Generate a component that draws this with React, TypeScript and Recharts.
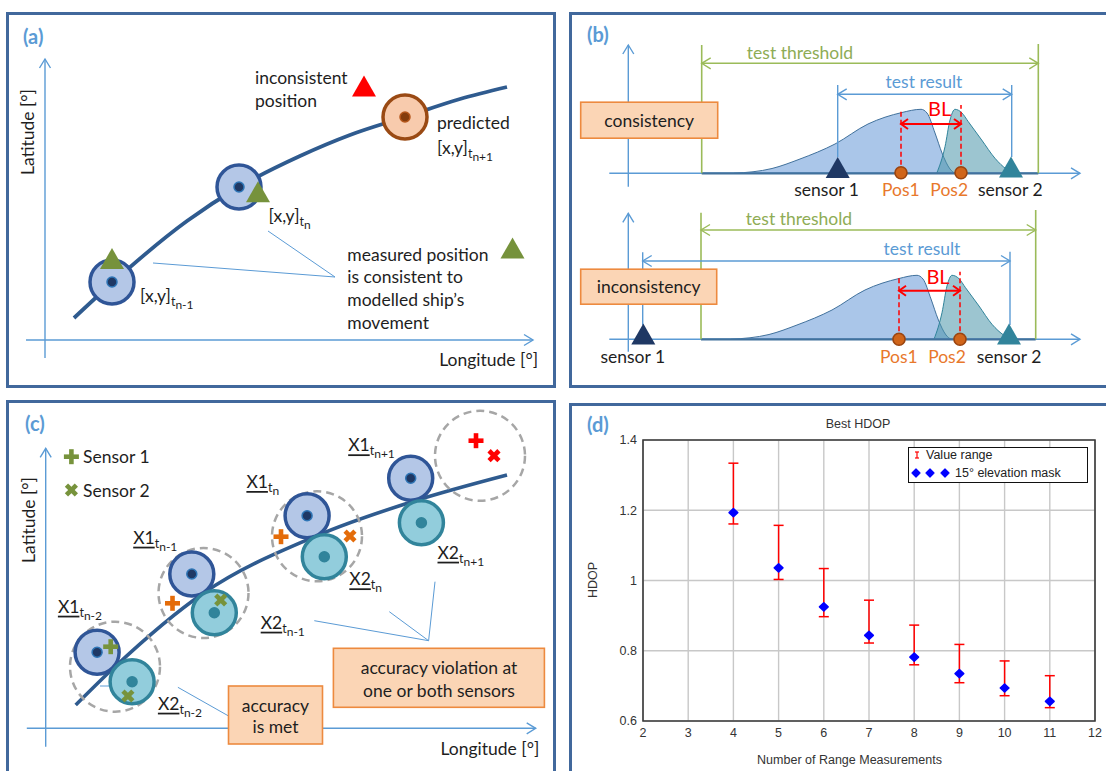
import React from 'react';
import {
  ComposedChart, Line, Area, Scatter, XAxis, YAxis, ReferenceLine, ReferenceArea,
  CartesianGrid, ErrorBar, Legend,
} from 'recharts';

const W = 1106;
const H = 771;
const TXT = "Lato, 'Noto Sans', sans-serif";
const CHART_FONT = "'Liberation Sans', Arial, sans-serif";

// ---------------- (d) Best HDOP ----------------
const rangeMeasurements = [4, 5, 6, 7, 8, 9, 10, 11];
const hdopElevMask15 = [1.193, 1.036, 0.925, 0.844, 0.782, 0.735, 0.694, 0.656];
const hdopRangeMax = [1.334, 1.157, 1.034, 0.944, 0.873, 0.818, 0.771, 0.729];
const hdopRangeMin = [1.161, 1.003, 0.897, 0.822, 0.76, 0.709, 0.672, 0.638];
const hdopXTicks = [2, 3, 4, 5, 6, 7, 8, 9, 10, 11, 12];
const hdopYTicks = [0.6, 0.8, 1, 1.2, 1.4];

// ---------------- diagram data (panels a, b, c) ----------------
type XY = [number, number];
type SegKind = 'axis' | 'leader' | 'base' | 'threshold' | 'thresholdSpan' | 'result' | 'resultSpan' | 'pos' | 'bl';
type Seg = { from: XY; to: XY; kind: SegKind };

// (a)
const shipTrackA: XY[] = [[74, 318], [112, 283], [187, 221], [239, 187], [300, 156], [350, 135], [405, 117], [460, 99], [507, 87]];
const fixesA = [
  { x: 112, y: 282, kind: 'measured' },
  { x: 239, y: 187, kind: 'measured' },
  { x: 405, y: 117, kind: 'predicted' },
];
const measurementsA = [
  { x: 112, y: 258.5, kind: 'ok' },
  { x: 258, y: 191.7, kind: 'ok' },
  { x: 364, y: 86, kind: 'bad' },
  { x: 512.5, y: 248, kind: 'ok' },
];
const segmentsA: Seg[] = [
  { from: [45, 358], to: [45, 59], kind: 'axis' },
  { from: [26, 340], to: [533, 340], kind: 'axis' },
  { from: [153, 263], to: [335, 277], kind: 'leader' },
  { from: [268, 231], to: [335, 277], kind: 'leader' },
];
const labelsA = [
  { x: 23, y: 35.5, text: '(a)', kind: 'panel', anchor: 'start' },
  { x: 27, y: 132, text: 'Latitude [°]', kind: 'axisV', anchor: 'middle' },
  { x: 538, y: 359, text: 'Longitude [°]', kind: 'body', anchor: 'end' },
  { x: 255, y: 77, text: 'inconsistent', kind: 'body', anchor: 'start' },
  { x: 255, y: 100, text: 'position', kind: 'body', anchor: 'start' },
  { x: 437, y: 122.7, text: 'predicted', kind: 'body', anchor: 'start' },
  { x: 347.3, y: 254, text: 'measured position', kind: 'body', anchor: 'start' },
  { x: 347.3, y: 276.7, text: 'is consistent to', kind: 'body', anchor: 'start' },
  { x: 347.3, y: 299.3, text: 'modelled ship’s', kind: 'body', anchor: 'start' },
  { x: 347.3, y: 322.7, text: 'movement', kind: 'body', anchor: 'start' },
];
const subLabelsA = [
  { x: 437, y: 146.7, main: '[x,y]', sub: 'n+1', underline: false },
  { x: 268.6, y: 215, main: '[x,y]', sub: 'n', underline: false },
  { x: 140, y: 295, main: '[x,y]', sub: 'n-1', underline: false },
];

// (b)
const segmentsB: Seg[] = [
  { from: [628.3, 186.7], to: [628.3, 45], kind: 'axis' },
  { from: [609.3, 173.3], to: [1080, 173.3], kind: 'axis' },
  { from: [701.7, 173.3], to: [1038.3, 173.3], kind: 'base' },
  { from: [701.7, 173.3], to: [701.7, 45], kind: 'threshold' },
  { from: [1038.3, 173.3], to: [1038.3, 44], kind: 'threshold' },
  { from: [701.7, 63.3], to: [1038.3, 63.3], kind: 'thresholdSpan' },
  { from: [837.7, 157], to: [837.7, 85], kind: 'result' },
  { from: [1011.7, 157], to: [1011.7, 85], kind: 'result' },
  { from: [837.7, 94.3], to: [1011.7, 94.3], kind: 'resultSpan' },
  { from: [901, 172.7], to: [901, 109.3], kind: 'pos' },
  { from: [961, 172.7], to: [961, 105], kind: 'pos' },
  { from: [901, 124], to: [961, 124], kind: 'bl' },
  { from: [628.3, 351.7], to: [628.3, 213.3], kind: 'axis' },
  { from: [609.3, 339.3], to: [1080, 339.3], kind: 'axis' },
  { from: [701, 339.3], to: [1035.7, 339.3], kind: 'base' },
  { from: [701, 339.3], to: [701, 212.7], kind: 'threshold' },
  { from: [1035.7, 339.3], to: [1035.7, 210], kind: 'threshold' },
  { from: [701, 230], to: [1035.7, 230], kind: 'thresholdSpan' },
  { from: [642.7, 325], to: [642.7, 252.3], kind: 'result' },
  { from: [1010, 325], to: [1010, 251.7], kind: 'result' },
  { from: [642.7, 261], to: [1010, 261], kind: 'resultSpan' },
  { from: [899, 339.3], to: [899, 275.3], kind: 'pos' },
  { from: [960, 339.3], to: [960, 271.7], kind: 'pos' },
  { from: [899, 290.7], to: [960, 290.7], kind: 'bl' },
];
const densitySensor1Upper: XY[] = [[734, 173.3], [772, 168.5], [800, 159], [835, 144], [868, 124], [902, 112.5], [921, 109.3], [927, 113], [935, 133], [942, 153], [950, 169], [955, 173.3]];
const densitySensor2Upper: XY[] = [[936.7, 173.3], [945, 146.7], [950, 120], [955, 109.3], [961.7, 112.7], [968.3, 121.7], [981.7, 140], [995, 158.3], [1006.7, 169.3], [1015, 173.3]];
const densitySensor1Lower: XY[] = [[731, 339.3], [769, 334.5], [797, 325], [832, 310], [865, 290], [899, 278.5], [917, 275.3], [923, 279], [931, 299], [938, 319], [946, 335], [951, 339.3]];
const densitySensor2Lower: XY[] = [[934, 339.3], [942, 312.7], [947, 286], [952, 275.3], [959, 278.7], [965.5, 287.7], [979, 306], [992, 324.3], [1004, 335.3], [1012, 339.3]];
const baselineUpper = 173.3;
const baselineLower = 339.3;
const sensorsB = [
  { x: 837.7, y: 167.5, kind: 's1' },
  { x: 1011, y: 167, kind: 's2' },
  { x: 643.3, y: 334, kind: 's1' },
  { x: 1009, y: 334, kind: 's2' },
];
const positionsB = [
  { x: 901, y: 172.7 }, { x: 961, y: 172.7 }, { x: 899, y: 339.3 }, { x: 960, y: 339.3 },
];
const labelsB = [
  { x: 587, y: 34.2, text: '(b)', kind: 'panel', anchor: 'start' },
  { x: 800, y: 52.7, text: 'test threshold', kind: 'threshold', anchor: 'middle' },
  { x: 924, y: 81, text: 'test result', kind: 'result', anchor: 'middle' },
  { x: 939.7, y: 108.3, text: 'BL', kind: 'bl', anchor: 'middle' },
  { x: 826.6, y: 189, text: 'sensor 1', kind: 'body', anchor: 'middle' },
  { x: 900.8, y: 189, text: 'Pos1', kind: 'pos', anchor: 'middle' },
  { x: 949.2, y: 189, text: 'Pos2', kind: 'pos', anchor: 'middle' },
  { x: 1010.3, y: 189, text: 'sensor 2', kind: 'body', anchor: 'middle' },
  { x: 649.2, y: 120.2, text: 'consistency', kind: 'body', anchor: 'middle' },
  { x: 799, y: 218.3, text: 'test threshold', kind: 'threshold', anchor: 'middle' },
  { x: 922, y: 248.3, text: 'test result', kind: 'result', anchor: 'middle' },
  { x: 938, y: 275.7, text: 'BL', kind: 'bl', anchor: 'middle' },
  { x: 632.8, y: 356, text: 'sensor 1', kind: 'body', anchor: 'middle' },
  { x: 898.8, y: 356, text: 'Pos1', kind: 'pos', anchor: 'middle' },
  { x: 947, y: 356, text: 'Pos2', kind: 'pos', anchor: 'middle' },
  { x: 1009, y: 356, text: 'sensor 2', kind: 'body', anchor: 'middle' },
  { x: 648.7, y: 286.7, text: 'inconsistency', kind: 'body', anchor: 'middle' },
];

// (c)
const shipTrackC: XY[] = [[75.7, 705], [114.6, 667], [203, 593.4], [315.7, 536.2], [416, 500.5], [507, 475]];
const toleranceC = [{ x: 115, y: 666.7 }, { x: 203.5, y: 593 }, { x: 317, y: 536.3 }, { x: 480, y: 455.8 }];
const fixesC = [
  { x: 97.1, y: 652.3, kind: 'measured' },
  { x: 191.8, y: 574, kind: 'measured' },
  { x: 307.1, y: 515.7, kind: 'measured' },
  { x: 410.7, y: 478.3, kind: 'measured' },
  { x: 132.1, y: 681.7, kind: 'sensor2' },
  { x: 214.3, y: 612.7, kind: 'sensor2' },
  { x: 324.3, y: 556.7, kind: 'sensor2' },
  { x: 421.4, y: 522.7, kind: 'sensor2' },
];
const sensorFixesC = [
  { x: 110.7, y: 646.7, sensor: 1, status: 'ok' },
  { x: 127.9, y: 696, sensor: 2, status: 'ok' },
  { x: 172.5, y: 603.3, sensor: 1, status: 'warn' },
  { x: 220.7, y: 600, sensor: 2, status: 'ok' },
  { x: 281, y: 536.7, sensor: 1, status: 'warn' },
  { x: 350, y: 536, sensor: 2, status: 'warn' },
  { x: 476, y: 440.7, sensor: 1, status: 'fail' },
  { x: 494, y: 455.7, sensor: 2, status: 'fail' },
  { x: 71.4, y: 456.7, sensor: 1, status: 'ok' },
  { x: 71.4, y: 490, sensor: 2, status: 'ok' },
];
const segmentsC: Seg[] = [
  { from: [45.7, 746.7], to: [45.7, 448.3], kind: 'axis' },
  { from: [26.8, 728.3], to: [535.7, 728.3], kind: 'axis' },
  { from: [177.9, 687.3], to: [228.6, 716], kind: 'leader' },
  { from: [314.3, 620.7], to: [428.6, 640.7], kind: 'leader' },
  { from: [389.3, 611.7], to: [428.6, 640.7], kind: 'leader' },
  { from: [435, 581.7], to: [428.6, 640.7], kind: 'leader' },
  { from: [100, 686], to: [139, 686], kind: 'leader' },
];
const labelsC = [
  { x: 25, y: 422.5, text: '(c)', kind: 'panel', anchor: 'start' },
  { x: 28, y: 520, text: 'Latitude [°]', kind: 'axisV', anchor: 'middle' },
  { x: 539.3, y: 748.3, text: 'Longitude [°]', kind: 'body', anchor: 'end' },
  { x: 83, y: 456.7, text: 'Sensor 1', kind: 'body', anchor: 'start' },
  { x: 83, y: 490, text: 'Sensor 2', kind: 'body', anchor: 'start' },
  { x: 275.5, y: 705, text: 'accuracy', kind: 'body', anchor: 'middle' },
  { x: 275.5, y: 726.7, text: 'is met', kind: 'body', anchor: 'middle' },
  { x: 439, y: 667.3, text: 'accuracy violation at', kind: 'body', anchor: 'middle' },
  { x: 439, y: 690, text: 'one or both sensors', kind: 'body', anchor: 'middle' },
];
const subLabelsC = [
  { x: 57.9, y: 605.7, main: 'X1', sub: 'n-2', underline: true },
  { x: 133.2, y: 536.7, main: 'X1', sub: 'n-1', underline: true },
  { x: 246.4, y: 481, main: 'X1', sub: 'n', underline: true },
  { x: 348.2, y: 444.3, main: 'X1', sub: 'n+1', underline: true },
  { x: 157.9, y: 702.7, main: 'X2', sub: 'n-2', underline: true },
  { x: 260.7, y: 621.7, main: 'X2', sub: 'n-1', underline: true },
  { x: 349.3, y: 578.3, main: 'X2', sub: 'n', underline: true },
  { x: 437.5, y: 551.7, main: 'X2', sub: 'n+1', underline: true },
];

// call-out boxes (centre points)
const boxes = [
  { x: 649.2, y: 120.2, id: 'consistency' },
  { x: 648.7, y: 286.7, id: 'inconsistency' },
  { x: 275.5, y: 715, id: 'accuracyMet' },
  { x: 438.9, y: 677.8, id: 'violation' },
];

// ---------------- styles ----------------
const BOX_SIZE: Record<string, [number, number]> = {
  consistency: [137, 36],
  inconsistency: [136, 35],
  accuracyMet: [94, 58],
  violation: [211, 59],
};
const SEG_STYLE: Record<SegKind, { stroke: string; width: number; head: 'none' | 'end' | 'both'; dash?: string; hl?: number; hw?: number }> = {
  axis: { stroke: '#5b9bd5', width: 1.4, head: 'end', hl: 9, hw: 5.5 },
  leader: { stroke: '#5b9bd5', width: 1, head: 'none' },
  base: { stroke: '#41719c', width: 2.2, head: 'none' },
  threshold: { stroke: '#9bbb59', width: 1.6, head: 'none' },
  thresholdSpan: { stroke: '#9bbb59', width: 1.4, head: 'both', hl: 9, hw: 5.5 },
  result: { stroke: '#5b9bd5', width: 1.4, head: 'none' },
  resultSpan: { stroke: '#5b9bd5', width: 1.4, head: 'both', hl: 9, hw: 5.5 },
  pos: { stroke: '#ff0000', width: 1.5, head: 'none', dash: '5 3' },
  bl: { stroke: '#ff0000', width: 2, head: 'both', hl: 7, hw: 5 },
};
const TEXT_STYLE: Record<string, { size: number; weight?: number; color: string; rotate?: boolean }> = {
  panel: { size: 20, weight: 700, color: '#5b9bd5' },
  body: { size: 17.5, color: '#1e1e1e' },
  axisV: { size: 17.5, color: '#1e1e1e', rotate: true },
  threshold: { size: 17.5, color: '#8eac55' },
  result: { size: 17.5, color: '#5b9bd5' },
  bl: { size: 20, color: '#ff0000' },
  pos: { size: 17.5, color: '#e8782c' },
};
const FIX_STYLE: Record<string, { fill: string; stroke: string; dot: string; ring: string }> = {
  measured: { fill: '#b4c7e7', stroke: '#2f5597', dot: '#1f3864', ring: '#2e75b6' },
  predicted: { fill: '#f8cbad', stroke: '#9a4a14', dot: '#843c0c', ring: '#b4561a' },
  sensor2: { fill: '#92cddc', stroke: '#31849b', dot: '#31849b', ring: '#31849b' },
};
const TRI_COLOR: Record<string, string> = { ok: '#76923c', bad: '#ff0000', s1: '#1f3864', s2: '#31849b' };
const STATUS_COLOR: Record<string, string> = { ok: '#77933c', warn: '#e46c0a', fail: '#ff0000' };

const toPts = (a: XY[]) => a.map(([x, y]) => ({ x, y }));

// ---------------- shapes ----------------
const segShape = (kind: SegKind) => (p: any) => {
  const s = SEG_STYLE[kind];
  const { x1, y1, x2, y2 } = p;
  const chevron = (tx: number, ty: number, fx: number, fy: number, key: string) => {
    const a = Math.atan2(ty - fy, tx - fx);
    const L = s.hl ?? 9;
    const Wd = s.hw ?? 5;
    const bx = tx - L * Math.cos(a);
    const by = ty - L * Math.sin(a);
    const nx = -Math.sin(a);
    const ny = Math.cos(a);
    return (
      <polyline key={key} points={`${bx + Wd * nx},${by + Wd * ny} ${tx},${ty} ${bx - Wd * nx},${by - Wd * ny}`}
        fill="none" stroke={s.stroke} strokeWidth={s.width} />
    );
  };
  return (
    <g>
      <line x1={x1} y1={y1} x2={x2} y2={y2} stroke={s.stroke} strokeWidth={s.width} strokeDasharray={s.dash} />
      {s.head !== 'none' && chevron(x2, y2, x1, y1, 'e')}
      {s.head === 'both' && chevron(x1, y1, x2, y2, 's')}
    </g>
  );
};

const FixShape = (p: any) => {
  const s = FIX_STYLE[p.payload.kind];
  return (
    <g>
      <circle cx={p.cx} cy={p.cy} r={22} fill={s.fill} stroke={s.stroke} strokeWidth={3.5} />
      <circle cx={p.cx} cy={p.cy} r={5} fill={s.dot} stroke={s.ring} strokeWidth={1.5} />
    </g>
  );
};
const TriShape = (p: any) => {
  const w = 24, h = 21;
  return <polygon points={`${p.cx},${p.cy - h / 2} ${p.cx + w / 2},${p.cy + h / 2} ${p.cx - w / 2},${p.cy + h / 2}`} fill={TRI_COLOR[p.payload.kind]} />;
};
const PosShape = (p: any) => <circle cx={p.cx} cy={p.cy} r={6} fill="#d0651a" stroke="#9b4510" strokeWidth={1.6} />;
const ToleranceShape = (p: any) => <circle cx={p.cx} cy={p.cy} r={45} fill="none" stroke="#a6a6a6" strokeWidth={2.5} strokeDasharray="8 5" />;
const SensorMarkShape = (p: any) => {
  const c = STATUS_COLOR[p.payload.status];
  const T = 4.6;
  const rot = p.payload.sensor === 2 ? 45 : 0;
  const len = p.payload.sensor === 2 ? 14 : 15;
  return (
    <g transform={`rotate(${rot} ${p.cx} ${p.cy})`}>
      <rect x={p.cx - len / 2} y={p.cy - T / 2} width={len} height={T} fill={c} />
      <rect x={p.cx - T / 2} y={p.cy - len / 2} width={T} height={len} fill={c} />
    </g>
  );
};
const BoxShape = (p: any) => {
  const [w, h] = BOX_SIZE[p.payload.id];
  return <rect x={p.cx - w / 2} y={p.cy - h / 2} width={w} height={h} fill="#fbd5b5" stroke="#ed8a3f" strokeWidth={1.6} />;
};
const TextShape = (p: any) => {
  const d = p.payload;
  const s = TEXT_STYLE[d.kind];
  return (
    <text x={p.cx} y={p.cy} textAnchor={d.anchor} dominantBaseline="central" fontFamily={TXT}
      fontSize={s.size} fontWeight={s.weight ?? 400} fill={s.color}
      transform={s.rotate ? `rotate(-90 ${p.cx} ${p.cy})` : undefined}>
      {d.text}
    </text>
  );
};
const SubLabelShape = (p: any) => {
  const d = p.payload;
  return (
    <text x={p.cx} y={p.cy} dominantBaseline="central" fontFamily={TXT} fill="#1e1e1e" fontSize={17.5}>
      <tspan style={d.underline ? { textDecoration: 'underline' } : undefined}>{d.main}</tspan>
      <tspan fontSize={12.5} dy={6}>t</tspan>
      <tspan fontSize={12} dy={3}>{d.sub}</tspan>
    </text>
  );
};

const allSegments: Seg[] = [...segmentsA, ...segmentsB, ...segmentsC];
const allLabels = [...labelsA, ...labelsB, ...labelsC];
const allSubLabels = [...subLabelsA, ...subLabelsC];

function Diagrams() {
  return (
    <ComposedChart width={W} height={H} margin={{ top: 0, right: 0, bottom: 0, left: 0 }}>
      <XAxis type="number" dataKey="x" domain={[0, W]} hide allowDataOverflow />
      <YAxis type="number" dataKey="y" domain={[0, H]} reversed hide allowDataOverflow />
      <Area data={toPts(densitySensor1Upper)} dataKey="y" type="monotone" baseValue={baselineUpper}
        fill="#8db3e2" fillOpacity={0.75} stroke="#41719c" strokeWidth={1} dot={false} activeDot={false} isAnimationActive={false} />
      <Area data={toPts(densitySensor2Upper)} dataKey="y" type="monotone" baseValue={baselineUpper}
        fill="#4b96aa" fillOpacity={0.55} stroke="#31849b" strokeWidth={1} dot={false} activeDot={false} isAnimationActive={false} />
      <Area data={toPts(densitySensor1Lower)} dataKey="y" type="monotone" baseValue={baselineLower}
        fill="#8db3e2" fillOpacity={0.75} stroke="#41719c" strokeWidth={1} dot={false} activeDot={false} isAnimationActive={false} />
      <Area data={toPts(densitySensor2Lower)} dataKey="y" type="monotone" baseValue={baselineLower}
        fill="#4b96aa" fillOpacity={0.55} stroke="#31849b" strokeWidth={1} dot={false} activeDot={false} isAnimationActive={false} />
      {allSegments.map((s, i) => (
        <ReferenceLine key={`seg${i}`} ifOverflow="visible"
          segment={[{ x: s.from[0], y: s.from[1] }, { x: s.to[0], y: s.to[1] }]}
          shape={segShape(s.kind)} />
      ))}
      <Line data={toPts(shipTrackA)} dataKey="y" type="monotone" stroke="#2f5b8f" strokeWidth={3.8}
        dot={false} activeDot={false} isAnimationActive={false} />
      <Line data={toPts(shipTrackC)} dataKey="y" type="monotone" stroke="#2f5b8f" strokeWidth={3.6}
        dot={false} activeDot={false} isAnimationActive={false} />
      <Scatter data={toleranceC} dataKey="y" shape={ToleranceShape} isAnimationActive={false} />
      <Scatter data={[...fixesA, ...fixesC]} dataKey="y" shape={FixShape} isAnimationActive={false} />
      <Scatter data={[...measurementsA, ...sensorsB]} dataKey="y" shape={TriShape} isAnimationActive={false} />
      <Scatter data={positionsB} dataKey="y" shape={PosShape} isAnimationActive={false} />
      <Scatter data={sensorFixesC} dataKey="y" shape={SensorMarkShape} isAnimationActive={false} />
      <Scatter data={boxes} dataKey="y" shape={BoxShape} isAnimationActive={false} />
      <Scatter data={allLabels} dataKey="y" shape={TextShape} isAnimationActive={false} />
      <Scatter data={allSubLabels} dataKey="y" shape={SubLabelShape} isAnimationActive={false} />
    </ComposedChart>
  );
}

// ---------------- (d) chart ----------------
const hdopRows = rangeMeasurements.map((n, i) => ({
  n,
  hdop: hdopElevMask15[i],
  spread: [hdopElevMask15[i] - hdopRangeMin[i], hdopRangeMax[i] - hdopElevMask15[i]],
}));

const Diamond = (p: any) => (
  <polygon points={`${p.cx},${p.cy - 4} ${p.cx + 4.3},${p.cy} ${p.cx},${p.cy + 4} ${p.cx - 4.3},${p.cy}`}
    fill="#0000ff" stroke="#0000ff" strokeWidth={1.6} strokeLinejoin="round" />
);

const HdopLegend = () => (
  <div style={{
    boxSizing: 'border-box', width: 180, height: 36, border: '1.5px solid #111', background: '#fff',
    fontFamily: CHART_FONT, fontSize: 12.5, color: '#222', position: 'relative',
  }}>
    <svg width={12} height={12} style={{ position: 'absolute', left: 2, top: 1 }}>
      <line x1={6} y1={3} x2={6} y2={9} stroke="#ff0000" strokeWidth={1.2} />
      <line x1={4} y1={3} x2={8} y2={3} stroke="#ff0000" strokeWidth={1.2} />
      <line x1={4} y1={9} x2={8} y2={9} stroke="#ff0000" strokeWidth={1.2} />
    </svg>
    <span style={{ position: 'absolute', left: 17, top: -1, lineHeight: '16px' }}>Value range</span>
    <svg width={44} height={12} style={{ position: 'absolute', left: 1, top: 19 }}>
      {[6, 20, 35].map((cx) => (
        <polygon key={cx} points={`${cx},2 ${cx + 4},6 ${cx},10 ${cx - 4},6`} fill="#0000ff" stroke="#0000ff" strokeWidth={1.2} strokeLinejoin="round" />
      ))}
    </svg>
    <span style={{ position: 'absolute', left: 46, top: 17, lineHeight: '16px' }}>15° elevation mask</span>
  </div>
);

function HdopChart() {
  const tick = { fontSize: 12.5, fill: '#333', fontFamily: CHART_FONT };
  return (
    <ComposedChart width={536} height={367} data={hdopRows} margin={{ top: 36, right: 11, bottom: 0, left: 0 }}>
      <CartesianGrid stroke="#c8c8c8" strokeWidth={1.4} />
      <XAxis type="number" dataKey="n" domain={[2, 12]} ticks={hdopXTicks} interval={0} height={50}
        tickSize={0} tickMargin={7} axisLine={false} tick={tick} allowDataOverflow />
      <YAxis type="number" domain={[0.6, 1.4]} ticks={hdopYTicks} interval={0} width={73}
        tickSize={0} tickMargin={6} axisLine={false} tick={tick} allowDataOverflow />
      <ReferenceArea x1={2} x2={12} y1={0.6} y2={1.4} fill="none" fillOpacity={0} stroke="#3a3a3a" strokeWidth={1.6} ifOverflow="visible" />
      <Scatter dataKey="hdop" name="15° elevation mask" shape={Diamond} isAnimationActive={false}>
        <ErrorBar dataKey="spread" direction="y" width={5} stroke="#ff0000" strokeWidth={1.5} />
      </Scatter>
      <Legend content={HdopLegend} layout="horizontal" verticalAlign="middle" align="center"
        wrapperStyle={{ left: 338, top: 43, width: 180, height: 36 }} />
    </ComposedChart>
  );
}

const frame = (left: number, top: number, width: number, height: number) => ({
  position: 'absolute' as const, left, top, width, height, boxSizing: 'border-box' as const,
  border: '3px solid #41689c',
});

export default function App() {
  const dText = { position: 'absolute' as const, fontFamily: CHART_FONT, fontSize: 12.5, color: '#333', whiteSpace: 'nowrap' as const };
  return (
    <div style={{ position: 'absolute', left: 0, top: 0, width: W, height: H, overflow: 'hidden', background: '#fff' }}>
      <div style={frame(6, 12, 550, 376)} />
      <div style={frame(569, 12, 560, 376)} />
      <div style={frame(6, 400, 550, 420)} />
      <div style={frame(569, 403, 560, 420)} />
      <div style={{ position: 'absolute', left: 570, top: 404 }}>
        <HdopChart />
      </div>
      <div style={{ ...dText, left: 858, top: 424, transform: 'translate(-50%, -50%)' }}>Best HDOP</div>
      <div style={{ ...dText, left: 849.5, top: 760, transform: 'translate(-50%, -50%)' }}>Number of Range Measurements</div>
      <div style={{ ...dText, left: 592.7, top: 580, transform: 'translate(-50%, -50%) rotate(-90deg)' }}>HDOP</div>
      <div style={{ position: 'absolute', left: 587, top: 423.5, transform: 'translateY(-50%)', fontFamily: TXT, fontWeight: 700, fontSize: 20, color: '#5b9bd5' }}>(d)</div>
      <div style={{ position: 'absolute', left: 0, top: 0 }}>
        <Diagrams />
      </div>
    </div>
  );
}
